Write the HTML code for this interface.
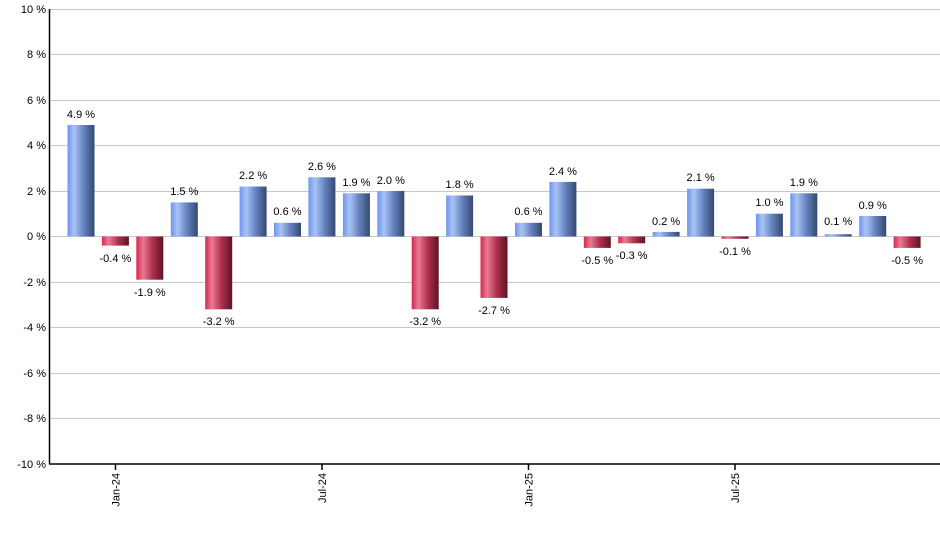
<!DOCTYPE html>
<html><head><meta charset="utf-8"><style>
html,body{margin:0;padding:0;background:#fff}
svg{display:block;font-family:"Liberation Sans",sans-serif}
</style></head><body>
<svg width="940" height="550" viewBox="0 0 940 550" xmlns="http://www.w3.org/2000/svg">
<defs>
<linearGradient id="b" x1="0" x2="1" y1="0" y2="0">
<stop offset="0" stop-color="#6f96ea"/><stop offset="0.25" stop-color="#a8c3f5"/><stop offset="0.6" stop-color="#6582c0"/><stop offset="1" stop-color="#34496f"/></linearGradient>
<linearGradient id="r" x1="0" x2="1" y1="0" y2="0">
<stop offset="0" stop-color="#d8264f"/><stop offset="0.25" stop-color="#ea7a92"/><stop offset="0.6" stop-color="#b0304e"/><stop offset="1" stop-color="#5e1424"/></linearGradient>
</defs>
<g stroke="#c8c8c8" stroke-width="1">
<line x1="50" x2="940" y1="9.5" y2="9.5"/><line x1="50" x2="940" y1="54.5" y2="54.5"/><line x1="50" x2="940" y1="100.5" y2="100.5"/><line x1="50" x2="940" y1="145.5" y2="145.5"/><line x1="50" x2="940" y1="191.5" y2="191.5"/><line x1="50" x2="940" y1="236.5" y2="236.5"/><line x1="50" x2="940" y1="282.5" y2="282.5"/><line x1="50" x2="940" y1="327.5" y2="327.5"/><line x1="50" x2="940" y1="373.5" y2="373.5"/><line x1="50" x2="940" y1="418.5" y2="418.5"/>
</g>
<g font-size="11" fill="#000" text-anchor="end">
<text x="46" y="13">10 %</text><text x="46" y="58">8 %</text><text x="46" y="104">6 %</text><text x="46" y="149">4 %</text><text x="46" y="195">2 %</text><text x="46" y="240">0 %</text><text x="46" y="286">-2 %</text><text x="46" y="331">-4 %</text><text x="46" y="377">-6 %</text><text x="46" y="422">-8 %</text><text x="46" y="468">-10 %</text>
</g>
<g>
<rect x="67.5" y="125" width="27" height="111.5" fill="url(#b)"/>
<rect x="101.9" y="236.5" width="27" height="9.1" fill="url(#r)"/>
<rect x="136.3" y="236.5" width="27" height="43.2" fill="url(#r)"/>
<rect x="170.8" y="202.4" width="27" height="34.1" fill="url(#b)"/>
<rect x="205.2" y="236.5" width="27" height="72.8" fill="url(#r)"/>
<rect x="239.6" y="186.5" width="27" height="50" fill="url(#b)"/>
<rect x="274" y="222.8" width="27" height="13.7" fill="url(#b)"/>
<rect x="308.4" y="177.3" width="27" height="59.2" fill="url(#b)"/>
<rect x="342.9" y="193.3" width="27" height="43.2" fill="url(#b)"/>
<rect x="377.3" y="191" width="27" height="45.5" fill="url(#b)"/>
<rect x="411.7" y="236.5" width="27" height="72.8" fill="url(#r)"/>
<rect x="446.1" y="195.5" width="27" height="41" fill="url(#b)"/>
<rect x="480.5" y="236.5" width="27" height="61.4" fill="url(#r)"/>
<rect x="515" y="222.8" width="27" height="13.7" fill="url(#b)"/>
<rect x="549.4" y="181.9" width="27" height="54.6" fill="url(#b)"/>
<rect x="583.8" y="236.5" width="27" height="11.4" fill="url(#r)"/>
<rect x="618.2" y="236.5" width="27" height="6.8" fill="url(#r)"/>
<rect x="652.6" y="231.9" width="27" height="4.6" fill="url(#b)"/>
<rect x="687.1" y="188.7" width="27" height="47.8" fill="url(#b)"/>
<rect x="721.5" y="236.5" width="27" height="2.3" fill="url(#r)"/>
<rect x="755.9" y="213.7" width="27" height="22.8" fill="url(#b)"/>
<rect x="790.3" y="193.3" width="27" height="43.2" fill="url(#b)"/>
<rect x="824.7" y="234.2" width="27" height="2.3" fill="url(#b)"/>
<rect x="859.2" y="216" width="27" height="20.5" fill="url(#b)"/>
<rect x="893.6" y="236.5" width="27" height="11.4" fill="url(#r)"/>
</g>
<g font-size="11" fill="#000" text-anchor="middle">
<text x="81" y="118">4.9 %</text>
<text x="115.4" y="262">-0.4 %</text>
<text x="149.8" y="296">-1.9 %</text>
<text x="184.3" y="195">1.5 %</text>
<text x="218.7" y="325">-3.2 %</text>
<text x="253.1" y="179">2.2 %</text>
<text x="287.5" y="215">0.6 %</text>
<text x="321.9" y="170">2.6 %</text>
<text x="356.4" y="186">1.9 %</text>
<text x="390.8" y="184">2.0 %</text>
<text x="425.2" y="325">-3.2 %</text>
<text x="459.6" y="188">1.8 %</text>
<text x="494" y="314">-2.7 %</text>
<text x="528.5" y="215">0.6 %</text>
<text x="562.9" y="175">2.4 %</text>
<text x="597.3" y="264">-0.5 %</text>
<text x="631.7" y="259">-0.3 %</text>
<text x="666.1" y="225">0.2 %</text>
<text x="700.6" y="181">2.1 %</text>
<text x="735" y="255">-0.1 %</text>
<text x="769.4" y="206">1.0 %</text>
<text x="803.8" y="186">1.9 %</text>
<text x="838.2" y="225">0.1 %</text>
<text x="872.7" y="209">0.9 %</text>
<text x="907.1" y="264">-0.5 %</text>
</g>
<g stroke="#000" stroke-width="1.5">
<line x1="49.5" x2="49.5" y1="9" y2="464"/>
<line x1="49" x2="940" y1="464" y2="464"/>
<line x1="115.5" x2="115.5" y1="464" y2="470"/>
<line x1="322" x2="322" y1="464" y2="470"/>
<line x1="528.5" x2="528.5" y1="464" y2="470"/>
<line x1="735" x2="735" y1="464" y2="470"/>
</g>
<g font-size="11" fill="#000" text-anchor="end">
<text transform="translate(119.5,473) rotate(-90)">Jan-24</text>
<text transform="translate(326,473) rotate(-90)">Jul-24</text>
<text transform="translate(532.5,473) rotate(-90)">Jan-25</text>
<text transform="translate(739,473) rotate(-90)">Jul-25</text>
</g>
</svg>
</body></html>
